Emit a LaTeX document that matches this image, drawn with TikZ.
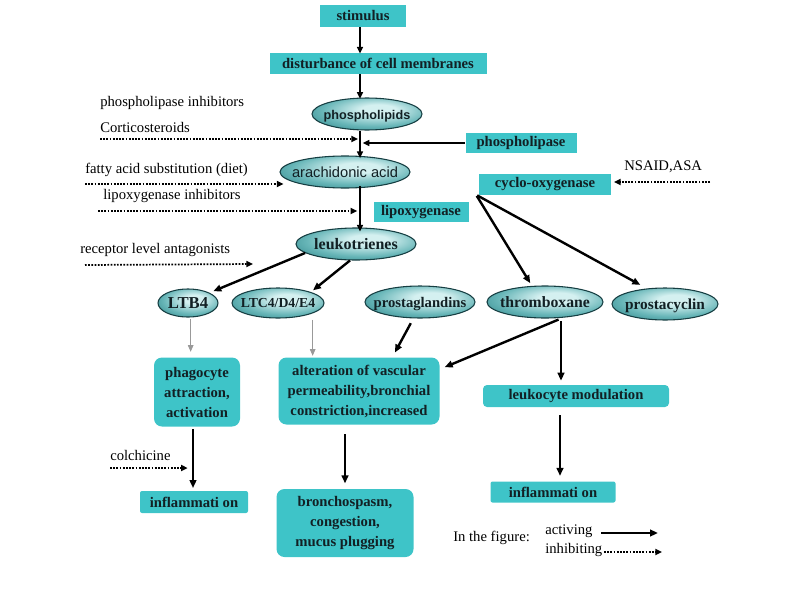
\documentclass[tikz,border=0pt]{standalone}
\usepackage{fontspec}
\setmainfont{Liberation Serif}
\newfontfamily\arialf{Liberation Sans}
\usetikzlibrary{arrows.meta,shapes.geometric,calc}
\definecolor{boxc}{RGB}{62,196,200}
\definecolor{ellout}{RGB}{34,124,128}
\definecolor{ellmid}{RGB}{104,182,184}
\definecolor{ellin}{RGB}{212,240,240}
\definecolor{elldraw}{RGB}{22,62,66}
\definecolor{txt}{RGB}{18,32,36}
\pgfdeclareradialshading{ellsh}{\pgfpoint{6bp}{8bp}}{color(0bp)=(ellin); color(8bp)=(ellin); color(24bp)=(ellmid); color(40bp)=(ellout); color(60bp)=(ellout)}
\newcommand\etx[1]{\smash{\makebox[0pt]{\raisebox{-0.75ex}{#1}}}}
\def\u{0.75pt}
\begin{document}
\begin{tikzpicture}[x=0.75pt,y=-0.75pt,
  box/.style={fill=boxc, inner sep=0pt, text=txt, align=center,
    font=\bfseries\fontsize{11}{15}\selectfont},
  rbox/.style={box, rounded corners=6pt},
  ell/.style={ellipse, draw=elldraw, line width=0.8pt, shading=ellsh,
    inner sep=0pt, text=txt,
    font=\bfseries\fontsize{11}{13}\selectfont},
  note/.style={font=\fontsize{11}{13}\selectfont, anchor=west, inner sep=0pt},
  act/.style={-{Triangle[length=6pt,width=5pt]}, line width=1.8pt},
  actt/.style={-{Triangle[length=5pt,width=4.5pt]}, line width=1.1pt},
  grey/.style={-{Triangle[length=5pt,width=4pt]}, line width=1pt, draw=black!40, fill=black!40},
  inh/.style={-{Triangle[length=5pt,width=4.5pt]}, line width=1.3pt, dash pattern=on 1.3pt off 1.1pt}
]
\useasboundingbox (0,0) rectangle (800,600);
\coordinate (vx) at (360,0);

% boxes and ellipses
\node[box, minimum width=86*\u, minimum height=22*\u] (stim) at (363,16) {stimulus};
\node[box, minimum width=217*\u, minimum height=21*\u] (dist) at (378,63) {disturbance of cell membranes};
\node[ell, minimum width=110*\u, minimum height=32*\u, font=\arialf\bfseries\fontsize{9.5}{11}\selectfont] (pl) at (367,114) {\etx{phospholipids}};
\node[box, minimum width=111*\u, minimum height=20*\u] (plase) at (521,143) {phospholipase};
\node[ell, minimum width=130*\u, minimum height=32*\u, font=\arialf\fontsize{11}{13}\selectfont] (aa) at (345,172) {\etx{arachidonic acid}};
\node[box, minimum width=132*\u, minimum height=21*\u] (cox) at (545,184) {cyclo-oxygenase};
\node[box, minimum width=95*\u, minimum height=20*\u] (lox) at (421,212) {lipoxygenase};
\node[ell, minimum width=120*\u, minimum height=32*\u, font=\bfseries\fontsize{12}{14}\selectfont] (lt) at (356,244) {\etx{leukotrienes}};
\node[ell, minimum width=60*\u, minimum height=28*\u, font=\bfseries\fontsize{12.5}{14}\selectfont] (ltb4) at (188,303) {\etx{LTB4}};
\node[ell, minimum width=92*\u, minimum height=30*\u, font=\bfseries\fontsize{10.3}{12}\selectfont] (ltc4) at (278,303) {\etx{LTC4/D4/E4}};
\node[ell, minimum width=110*\u, minimum height=32*\u] (pg) at (420,302) {\etx{prostaglandins}};
\node[ell, minimum width=116*\u, minimum height=32*\u, font=\bfseries\fontsize{11.8}{13}\selectfont] (tx) at (545,302) {\etx{thromboxane}};
\node[ell, minimum width=106*\u, minimum height=32*\u, font=\bfseries\fontsize{11.5}{13}\selectfont] (pc) at (665,304) {\etx{prostacyclin}};
\node[rbox, minimum width=86*\u, minimum height=69*\u] (phago) at (197,392) {phagocyte\\attraction,\\activation};
\node[rbox, minimum width=161*\u, minimum height=67*\u] (alter) at (359,391) {alteration of vascular\\permeability,bronchial\\constriction,increased};
\node[box, rounded corners=3pt, minimum width=186*\u, minimum height=22*\u] (leuko) at (576,396) {leukocyte modulation};
\node[box, rounded corners=1.5pt, minimum width=108*\u, minimum height=22*\u] (infl1) at (194,502) {inflammati on};
\node[rbox, minimum width=137*\u, minimum height=68*\u] (bron) at (345,523) {bronchospasm,\\congestion,\\mucus plugging};
\node[box, rounded corners=1.5pt, minimum width=125*\u, minimum height=21*\u] (infl2) at (553,492) {inflammati on};

% side notes
\node[note] (n1) at (100,103) {phospholipase inhibitors};
\node[note] (n2) at (100,127) {Corticosteroids};
\node[note] (n3) at (85,170) {fatty acid substitution (diet)};
\node[note] (n4) at (103,196) {lipoxygenase inhibitors};
\node[note] (n5) at (624,167) {NSAID,ASA};
\node[note] (n6) at (80,250) {receptor level antagonists};
\node[note] (n7) at (110,455) {colchicine};

% main vertical chain
\draw[actt] (vx |- stim.south) -- ([yshift=-1pt]vx |- dist.north);
\draw[actt] (vx |- dist.south) -- ([yshift=-1pt]vx |- pl.north);
\draw[actt] (vx |- pl.south) -- ([yshift=-2pt]vx |- aa.north);
\draw[actt] (plase.west) -- ([xshift=2pt]vx |- plase.west);
\draw[actt] ([yshift=2pt]vx |- aa.south) -- ([yshift=-3pt]vx |- lt.north);

% leukotriene branches
\draw[act, shorten >=3pt] (lt.190) -- (ltb4.north east);
\draw[act, shorten >=2pt] (lt.250) -- (ltc4.north east);
% cyclo-oxygenase branches
\draw[act, shorten <=1pt, shorten >=2pt] ([xshift=-2pt]cox.south west) -- ([xshift=-10pt]tx.north);
\draw[act, shorten <=1pt, shorten >=4pt] ([xshift=-2pt]cox.south west) -- ([xshift=-15pt]pc.north);

% second level
\draw[grey, shorten <=1pt, shorten >=4pt] ([xshift=2pt]ltb4.south) -- ([xshift=2pt]ltb4.south |- phago.north);
\draw[grey, shorten <=1pt, shorten >=1pt] ([xshift=26pt]ltc4.south) -- ([xshift=26pt]ltc4.south |- alter.north);
\draw[act, shorten <=4pt, shorten >=4pt] ([xshift=-5pt]pg.south) -- ([xshift=25pt]alter.north);
\coordinate (txs) at ([xshift=12pt]tx.south);
\draw[act, shorten <=2pt, shorten >=4pt] (txs) -- ([yshift=-9pt]alter.north east);
\draw[act, shorten <=2pt, shorten >=3pt] (txs) -- (txs |- leuko.north);

% third level
\coordinate (pv) at ([xshift=-3pt]phago.south);
\draw[act, shorten <=2pt, shorten >=2pt] (pv) -- (pv |- infl1.north);
\coordinate (av) at ([xshift=-10.5pt]alter.south);
\draw[act, shorten <=7pt, shorten >=4pt] (av) -- (av |- bron.north);
\coordinate (lv) at ([xshift=-12pt]leuko.south);
\draw[act, shorten <=6pt, shorten >=4pt] (lv) -- (lv |- infl2.north);

% inhibitor arrows
\coordinate (d1) at (100,139);
\draw[inh] (d1) -- ([xshift=-1.5pt]vx |- d1);
\coordinate (d2) at (85,184);
\draw[inh] (d2) -- ([xshift=3pt]d2 -| aa.west);
\coordinate (d3) at (98,211);
\draw[inh] (d3) -- ([xshift=-2pt]vx |- d3);
\coordinate (d4) at (710,182);
\draw[inh] (d4) -- ([xshift=2pt]d4 -| cox.east);
\coordinate (d5) at (85,265);
\coordinate (d5e) at (253,264);
\draw[inh] (d5) -- (d5e);
\coordinate (d6) at (110,468);
\draw[inh] (d6) -- ([xshift=-4pt]pv |- d6);

% legend
\node[note] (lg) at (453,538) {In the figure:};
\node[note] (la) at (545,531) {activing};
\node[note] (li) at (545,550) {inhibiting};
\coordinate (a1) at (601,533);
\coordinate (a2) at (658,533);
\draw[act] (a1) -- (a2);
\coordinate (b1) at (604,552);
\coordinate (b2) at (662,552);
\draw[inh] (b1) -- (b2);
\end{tikzpicture}
\end{document}
